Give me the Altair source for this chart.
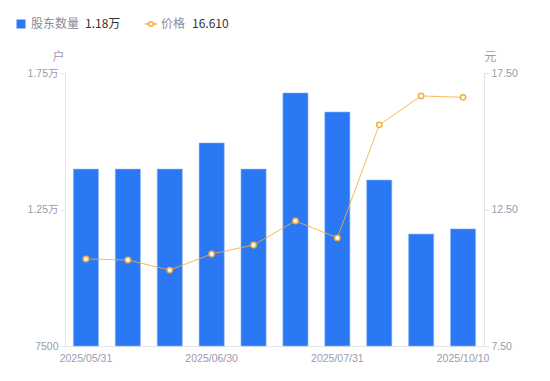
import altair as alt
import pandas as pd

dates = ["2025/05/31", "2025/06/10", "2025/06/20", "2025/06/30", "2025/07/10",
         "2025/07/20", "2025/07/31", "2025/08/31", "2025/09/30", "2025/10/10"]
holders = [13980, 13980, 13980, 14940, 13980, 16770, 16070, 13580, 11600, 11790]
prices = [10.69, 10.65, 10.28, 10.87, 11.20, 12.08, 11.46, 15.60, 16.66, 16.61]
label_dates = ["2025/05/31", "2025/06/30", "2025/07/31", "2025/10/10"]

df = pd.DataFrame({"date": dates, "holders": holders, "price": prices})

BLUE = "#2a78f4"
ORANGE = "#f7ac3a"
AXIS_GRAY = "#9a9aae"
FONT = "Liberation Sans, Noto Sans CJK SC"
LFONT = "Noto Sans CJK SC"

xenc = alt.X("date:N", sort=dates,
             scale=alt.Scale(paddingInner=0.4, paddingOuter=0.2),
             axis=alt.Axis(title=None, labelAngle=0, values=label_dates,
                           ticks=False, domainColor="#e3e3e8", labelColor=AXIS_GRAY,
                           labelFontSize=10.5, labelFont=FONT, labelPadding=7))

bars = alt.Chart(df).mark_bar(color=BLUE, stroke="#8fb8f8", strokeWidth=0.6).encode(
    x=xenc,
    y=alt.Y("holders:Q", scale=alt.Scale(domain=[7500, 17500], zero=False, nice=False),
            axis=alt.Axis(values=[7500, 12500, 17500], grid=False,
                          labelExpr="datum.value >= 10000 ? format(datum.value/10000, '.2f') + '万' : datum.value",
                          title="户", titleAngle=0, titleX=-7, titleY=-10, titleAlign="center",
                          titleFontWeight="normal", titleColor=AXIS_GRAY, titleFontSize=12, titleFont=FONT,
                          labelColor=AXIS_GRAY, labelFontSize=10.5, labelFont=FONT,
                          domainColor="#e3e3e8", tickColor="#e3e3e8", tickSize=5)),
    y2=alt.datum(7500),
)

yprice = alt.Y("price:Q", scale=alt.Scale(domain=[7.5, 17.5], zero=False, nice=False),
               axis=alt.Axis(values=[7.5, 12.5, 17.5], format=".2f", grid=False, orient="right",
                             title="元", titleAngle=0, titleX=6, titleY=-10, titleAlign="center",
                             titleFontWeight="normal", titleColor=AXIS_GRAY, titleFontSize=12, titleFont=FONT,
                             labelColor=AXIS_GRAY, labelFontSize=10.5, labelFont=FONT,
                             domainColor="#e3e3e8", tickColor="#e3e3e8", tickSize=5))

right = alt.Chart(df).mark_line(
    color=ORANGE, strokeWidth=1, opacity=0.85,
    point=alt.OverlayMarkDef(filled=True, fill="white", stroke=ORANGE, strokeWidth=1.5, size=28, opacity=1),
).encode(x=alt.X("date:N", sort=dates), y=yprice)

# legend
leg = pd.DataFrame({"k": [0]})
ly = -49
legend_layers = [
    alt.Chart(leg).mark_square(color=BLUE, size=80, opacity=1, cornerRadius=2).encode(
        x=alt.value(-44), y=alt.value(ly)),
    alt.Chart(leg).mark_text(text="股东数量", align="left", baseline="middle", fontSize=12,
                             color="#8a8a9a", font=LFONT).encode(x=alt.value(-34), y=alt.value(ly)),
    alt.Chart(leg).mark_text(text="1.18万", align="left", baseline="middle", fontSize=12,
                             color="#333333", font=LFONT).encode(x=alt.value(20), y=alt.value(ly)),
    alt.Chart(leg).mark_rule(color=ORANGE, strokeWidth=1.5).encode(
        x=alt.value(80), x2=alt.value(92), y=alt.value(ly)),
    alt.Chart(leg).mark_point(filled=True, fill="white", stroke=ORANGE, strokeWidth=1.5,
                              size=22, opacity=1).encode(x=alt.value(86), y=alt.value(ly)),
    alt.Chart(leg).mark_text(text="价格", align="left", baseline="middle", fontSize=12,
                             color="#8a8a9a", font=LFONT).encode(x=alt.value(96), y=alt.value(ly)),
    alt.Chart(leg).mark_text(text="16.610", align="left", baseline="middle", fontSize=12,
                             color="#333333", font=LFONT).encode(x=alt.value(127), y=alt.value(ly)),
]

chart = alt.layer(bars, right, *legend_layers).resolve_scale(y="independent").properties(
    width=419, height=273,
    autosize=alt.AutoSizeParams(type="none"),
    padding={"left": 57, "top": 65, "right": 58, "bottom": 27},
).configure_view(stroke=None)

chart.save("out.html", embed_options={"renderer": "svg", "actions": False})
